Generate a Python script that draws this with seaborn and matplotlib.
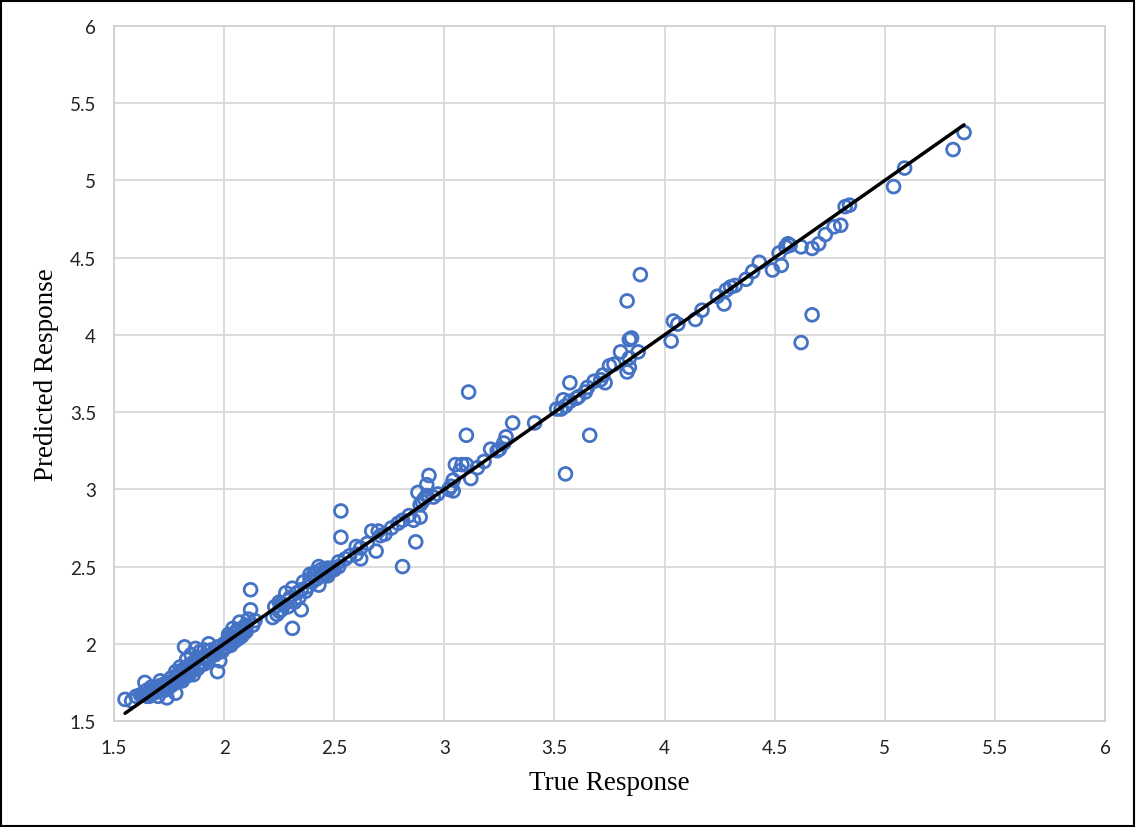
import numpy as np
import pandas as pd
import matplotlib.pyplot as plt
import seaborn as sns
from matplotlib.patches import Rectangle

# True vs predicted response values
true_resp = [
    5.36, 5.31, 5.09, 5.04, 4.84, 4.82, 4.80, 4.77, 4.73, 4.70, 4.67, 4.62, 4.57, 4.56, 4.55,
    4.52, 4.53, 4.49, 4.67, 4.62, 4.43, 4.40, 4.37, 4.32, 4.30, 4.28, 4.27, 4.24,
    4.17, 4.14, 4.06, 4.04, 4.03, 3.89, 3.83, 3.88, 3.85, 3.84, 3.84, 3.83, 3.84, 3.80,
    3.77, 3.75, 3.73, 3.72, 3.71, 3.68, 3.65, 3.64, 3.61, 3.60, 3.57, 3.57, 3.55, 3.54,
    3.53, 3.51, 3.66, 3.55, 3.41, 3.31, 3.28, 3.27, 3.25, 3.24, 3.21, 3.18, 3.15, 3.12,
    3.11, 3.10, 3.10, 3.08, 3.07, 3.05, 3.04, 3.03, 3.02, 3.04,
    2.97, 2.95, 2.93, 2.92, 2.92, 2.91, 2.90, 2.89, 2.88, 2.89, 2.86, 2.87, 2.84, 2.81,
    2.81, 2.79, 2.76, 2.73, 2.71, 2.70, 2.69, 2.67, 2.65, 2.62, 2.62, 2.60, 2.60, 2.57,
    2.55, 2.53, 2.53, 2.52, 2.52,
    2.49, 2.48, 2.47, 2.46, 2.45, 2.44, 2.43, 2.43, 2.42, 2.41, 2.40, 2.39, 2.38, 2.37,
    2.36, 2.35, 2.34, 2.33, 2.32, 2.31, 2.31, 2.30, 2.29, 2.28, 2.27, 2.26, 2.26, 2.25,
    2.24, 2.23, 2.22, 2.44, 2.41, 2.47, 2.35, 2.29, 2.25, 2.39, 2.46, 2.50,
    2.12, 2.12, 2.14, 2.13, 2.11, 2.10, 2.09, 2.08, 2.07, 2.07, 2.06, 2.05, 2.05, 2.04,
    2.03, 2.03, 2.02, 2.01, 2.00, 1.99, 1.98, 1.97, 1.97, 1.95, 1.93, 1.92, 1.91, 1.90,
    1.89, 1.88, 1.88, 1.87, 1.86, 1.86, 1.85, 1.85, 1.84, 1.83, 1.82, 1.82, 1.81, 1.80,
    1.79, 1.78, 1.78, 1.77, 1.76, 1.75, 1.74, 1.73, 1.72, 1.71, 1.70, 1.70, 1.69, 1.68,
    1.67, 1.66, 1.65, 1.64, 1.64, 1.62, 1.60, 1.58, 1.55,
    2.10, 2.08, 2.06, 2.04, 2.02, 2.00, 1.96, 1.94, 1.92, 1.90, 1.89, 1.87, 1.86, 1.84,
    1.83, 1.81, 1.80, 1.79, 1.77, 1.76, 1.74, 1.72, 1.71, 1.69, 1.67, 1.66, 1.65, 1.63,
    2.09, 2.05, 2.01, 1.93, 1.91, 1.88, 1.85, 1.82, 1.78, 1.75, 1.73, 1.68,
]
pred_resp = [
    5.31, 5.20, 5.08, 4.96, 4.84, 4.83, 4.71, 4.70, 4.65, 4.59, 4.56, 4.57, 4.58, 4.59, 4.57,
    4.53, 4.45, 4.42, 4.13, 3.95, 4.47, 4.41, 4.36, 4.32, 4.31, 4.29, 4.20, 4.25,
    4.16, 4.10, 4.07, 4.09, 3.96, 4.39, 4.22, 3.89, 3.98, 3.97, 3.79, 3.76, 3.85, 3.89,
    3.81, 3.80, 3.69, 3.74, 3.71, 3.70, 3.66, 3.63, 3.60, 3.59, 3.69, 3.57, 3.54, 3.58,
    3.52, 3.52, 3.35, 3.10, 3.43, 3.43, 3.34, 3.30, 3.26, 3.25, 3.26, 3.18, 3.14, 3.07,
    3.63, 3.35, 3.16, 3.16, 3.12, 3.16, 3.06, 3.02, 3.00, 2.99,
    2.97, 2.95, 3.09, 3.03, 2.96, 2.94, 2.92, 2.90, 2.98, 2.82, 2.80, 2.66, 2.83, 2.50,
    2.80, 2.78, 2.75, 2.71, 2.70, 2.73, 2.60, 2.73, 2.65, 2.62, 2.55, 2.58, 2.63, 2.57,
    2.55, 2.86, 2.69, 2.53, 2.50,
    2.49, 2.47, 2.49, 2.45, 2.46, 2.44, 2.50, 2.38, 2.42, 2.46, 2.40, 2.45, 2.37, 2.34,
    2.40, 2.22, 2.30, 2.33, 2.27, 2.36, 2.10, 2.30, 2.28, 2.33, 2.25, 2.26, 2.22, 2.27,
    2.19, 2.24, 2.17, 2.48, 2.44, 2.44, 2.35, 2.24, 2.21, 2.42, 2.48, 2.48,
    2.35, 2.22, 2.15, 2.12, 2.16, 2.08, 2.11, 2.05, 2.14, 2.04, 2.09, 2.02, 2.07, 2.10,
    2.03, 1.99, 2.06, 1.98, 2.00, 1.95, 1.89, 1.82, 1.98, 1.94, 2.00, 1.92, 1.96, 1.88,
    1.95, 1.84, 1.91, 1.97, 1.88, 1.80, 1.93, 1.85, 1.80, 1.90, 1.98, 1.82, 1.76, 1.85,
    1.78, 1.68, 1.82, 1.74, 1.78, 1.72, 1.65, 1.74, 1.70, 1.76, 1.66, 1.72, 1.70, 1.68,
    1.72, 1.66, 1.70, 1.75, 1.67, 1.67, 1.66, 1.63, 1.64,
    2.12, 2.06, 2.03, 2.01, 2.04, 1.97, 1.93, 1.96, 1.90, 1.91, 1.86, 1.89, 1.83, 1.86,
    1.79, 1.83, 1.77, 1.80, 1.76, 1.73, 1.75, 1.71, 1.73, 1.69, 1.70, 1.68, 1.66, 1.67,
    2.07, 2.05, 2.01, 1.90, 1.87, 1.86, 1.82, 1.79, 1.76, 1.74, 1.70, 1.69,
]

# reference line y = x
line_x = [1.55, 5.36]
line_y = [1.55, 5.36]

ticks = [1.5, 2, 2.5, 3, 3.5, 4, 4.5, 5, 5.5, 6]
tick_labels = ["1.5", "2", "2.5", "3", "3.5", "4", "4.5", "5", "5.5", "6"]

df = pd.DataFrame({"True Response": true_resp, "Predicted Response": pred_resp})
line_df = pd.DataFrame({"x": line_x, "y": line_y})

sns.set_style("whitegrid")
plt.rcParams["font.family"] = ["Lato", "DejaVu Sans"]

fig = plt.figure(figsize=(11.36, 8.28), dpi=100)
ax = fig.add_axes([0.1004, 0.128, 0.8723, 0.8394])

sns.scatterplot(data=df, x="True Response", y="Predicted Response", ax=ax,
                marker="o", s=85, facecolors="none", edgecolor="#4472C4",
                linewidth=2.0, zorder=3)
sns.lineplot(data=line_df, x="x", y="y", ax=ax, color="black", linewidth=2.5,
             zorder=4)

ax.set_xlim(1.5, 6)
ax.set_ylim(1.5, 6)
ax.set_xticks(ticks)
ax.set_xticklabels(tick_labels)
ax.set_yticks(ticks)
ax.set_yticklabels(tick_labels)
ax.tick_params(axis="both", length=0, labelsize=13.5, colors="#222222")
ax.tick_params(axis="x", pad=13)
ax.tick_params(axis="y", pad=13)
ax.grid(True, color="#d9d9d9", linewidth=1.3)
for sp in ax.spines.values():
    sp.set_color("#d0d0d0")
    sp.set_linewidth(1.3)

ax.set_xlabel("True Response", family=["Liberation Serif"], fontsize=19.5,
              color="black", labelpad=10)
ax.set_ylabel("Predicted Response", family=["Liberation Serif"], fontsize=19.5,
              color="black", labelpad=8)

fig.patches.append(Rectangle((0.001, 0.001), 0.997, 0.997, transform=fig.transFigure,
                             fill=False, edgecolor="black", linewidth=1.5))

plt.savefig("out.png", dpi=100)
